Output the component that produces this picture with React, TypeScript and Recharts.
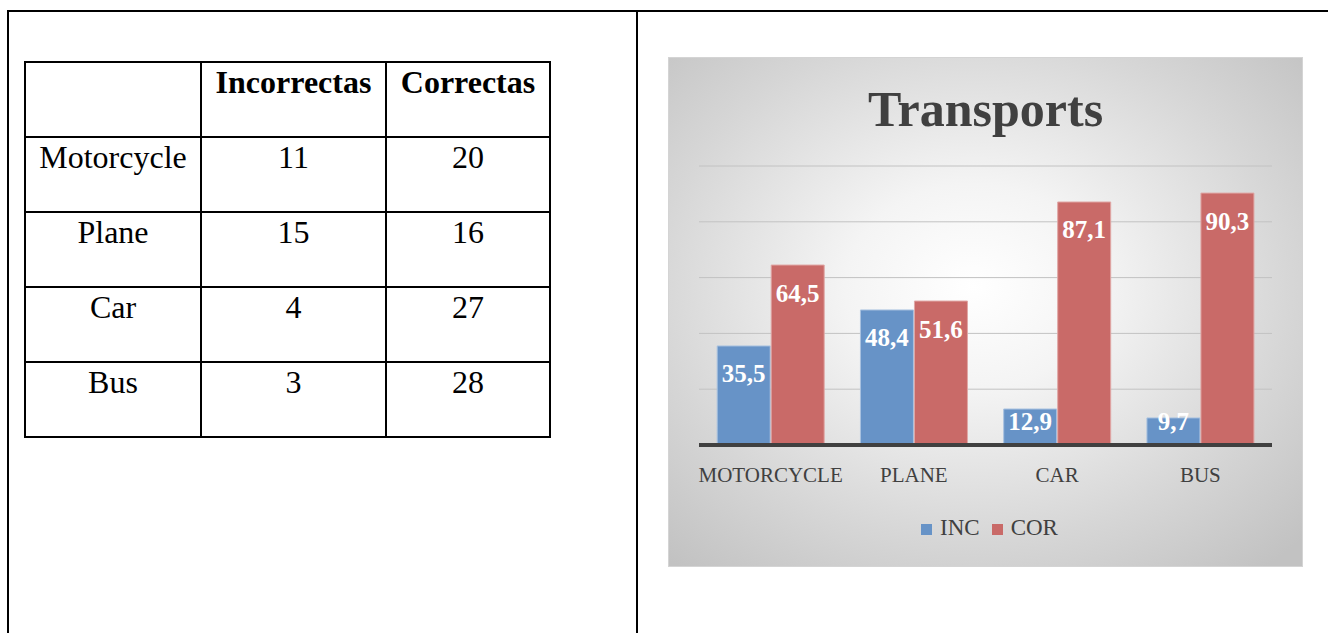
import { BarChart, Bar, XAxis, YAxis, CartesianGrid, Legend, LabelList } from "recharts";

const categories = ["MOTORCYCLE", "PLANE", "CAR", "BUS"];
const incValues = [35.5, 48.4, 12.9, 9.7];
const corValues = [64.5, 51.6, 87.1, 90.3];
const yTicks = [0, 20, 40, 60, 80, 100];
const seriesOrder = ["INC", "COR"];

const tableRows = ["Motorcycle", "Plane", "Car", "Bus"];
const incorrectas = [11, 15, 4, 3];
const correctas = [20, 16, 27, 28];

const chartData = categories.map((name, i) => ({ name, inc: incValues[i], cor: corValues[i] }));

const serif = "'Liberation Serif', 'Times New Roman', serif";
const textGray = "#404040";

const fmt = (v: number) => v.toFixed(1).replace(".", ",");

function BarValue(props: any) {
  const { x, y, width, height, value } = props;
  const cy = y + Math.min(28, Math.max(height - 24, 2));
  return (
    <text x={x + width / 2} y={cy} textAnchor="middle" dominantBaseline="central"
      fill="#fff" fontFamily={serif} fontWeight={700} fontSize={25}>
      {fmt(value)}
    </text>
  );
}

const cell: React.CSSProperties = {
  border: "2px solid #000",
  height: 71,
  padding: "1px 2px",
  verticalAlign: "top",
  textAlign: "center",
  fontFamily: serif,
  fontSize: 32,
  lineHeight: "36px",
};

export default function App() {
  return (
    <div style={{ position: "absolute", left: 0, top: 0, width: 1328, height: 633, background: "#fff", overflow: "hidden" }}>
      {/* outer document table lines */}
      <div style={{ position: "absolute", left: 7, top: 10, width: 1330, height: 2, background: "#000" }} />
      <div style={{ position: "absolute", left: 7, top: 10, width: 2, height: 640, background: "#000" }} />
      <div style={{ position: "absolute", left: 636, top: 10, width: 2, height: 640, background: "#000" }} />

      <table style={{ position: "absolute", left: 24, top: 61, borderCollapse: "collapse" }}>
        <thead>
          <tr>
            <td style={{ ...cell, width: 170 }} />
            <td style={{ ...cell, width: 179, fontWeight: 700 }}>Incorrectas</td>
            <td style={{ ...cell, width: 158, fontWeight: 700 }}>Correctas</td>
          </tr>
        </thead>
        <tbody>
          {tableRows.map((r, i) => (
            <tr key={r}>
              <td style={cell}>{r}</td>
              <td style={cell}>{incorrectas[i]}</td>
              <td style={cell}>{correctas[i]}</td>
            </tr>
          ))}
        </tbody>
      </table>

      <div style={{
        position: "absolute", left: 668, top: 57, width: 633, height: 508,
        border: "1px solid #d4d4d4",
        background: "radial-gradient(ellipse 72% 72% at 48% 45%, #ffffff 0%, #f4f4f4 28%, #d6d6d6 70%, #c2c2c2 100%)",
      }}>
        <div style={{
          position: "absolute", left: 0, top: 22, width: 633, textAlign: "center",
          fontFamily: serif, fontWeight: 700, fontSize: 50, color: textGray, lineHeight: "58px",
        }}>
          Transports
        </div>
        <BarChart width={633} height={508} data={chartData}
          margin={{ top: 108, right: 30, left: 30, bottom: 25 }}
          barCategoryGap="12.7%" barGap={1}>
          <CartesianGrid vertical={false} stroke="#c2c2c2" strokeWidth={1} />
          <YAxis hide domain={[0, 100]} ticks={yTicks} />
          <XAxis dataKey="name" axisLine={{ stroke: textGray, strokeWidth: 4 }} tickLine={false}
            tickSize={0} tickMargin={22} height={70}
            tick={{ fill: textGray, fontFamily: serif, fontSize: 21 }} />
          <Legend verticalAlign="bottom" iconType="square" iconSize={11}
            itemSorter={(item: any) => seriesOrder.indexOf(item.value)}
            wrapperStyle={{ fontFamily: serif, fontSize: 23, lineHeight: "26px", paddingLeft: 10 }}
            formatter={(v: string) => <span style={{ color: textGray, marginLeft: 4, marginRight: 2 }}>{v}</span>} />
          <Bar dataKey="inc" name="INC" fill="#6793c7" stroke="#a9c2e0" strokeWidth={1} isAnimationActive={false}>
            <LabelList dataKey="inc" content={BarValue} />
          </Bar>
          <Bar dataKey="cor" name="COR" fill="#c96a68" stroke="#e0a7a5" strokeWidth={1} isAnimationActive={false}>
            <LabelList dataKey="cor" content={BarValue} />
          </Bar>
        </BarChart>
      </div>
    </div>
  );
}
